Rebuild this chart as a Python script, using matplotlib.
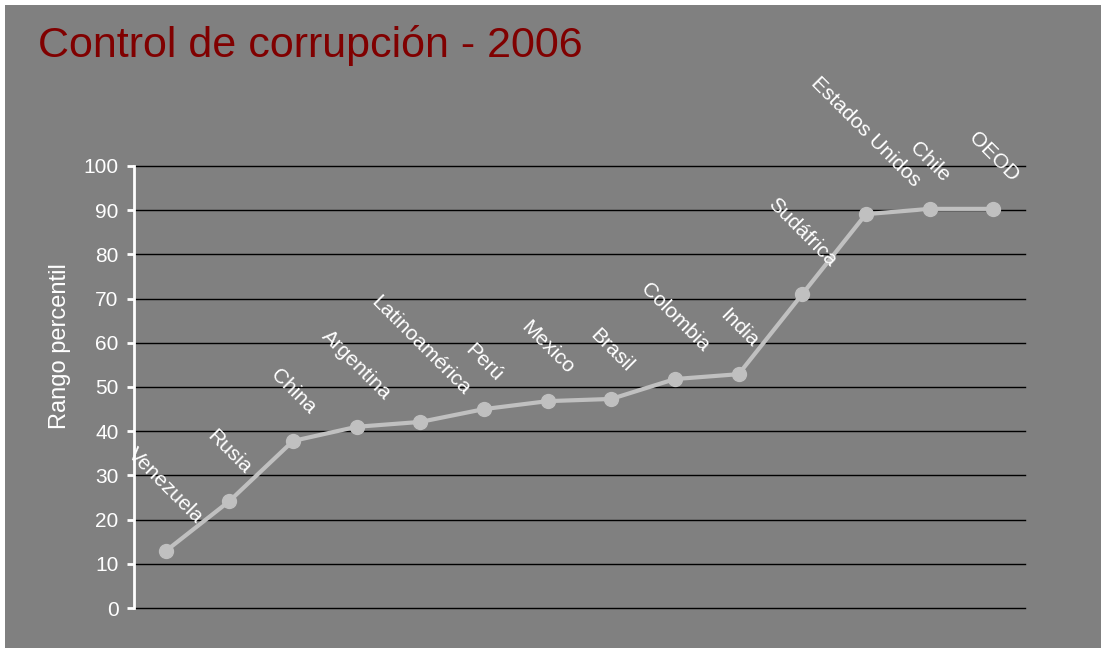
import matplotlib
matplotlib.use("Agg")
import matplotlib.pyplot as plt
from matplotlib.patches import Rectangle

paises = ["Venezuela", "Rusia", "China", "Argentina", "Latinoamérica", "Perú",
          "Mexico", "Brasil", "Colombia", "India", "Sudáfrica", "Estados Unidos",
          "Chile", "OEOD"]
rango = [12.9, 24.2, 37.8, 41.0, 42.1, 45.0, 46.8, 47.3, 51.8, 52.9, 71.0, 89.1, 90.3, 90.3]
yticks = [0, 10, 20, 30, 40, 50, 60, 70, 80, 90, 100]

GRIS = "#808080"
plt.rcParams["font.family"] = ["Liberation Sans", "DejaVu Sans"]

fig = plt.figure(figsize=(11.01, 6.48), dpi=100)
fig.patch.set_facecolor("white")
# fondo gris con borde blanco arriba/izquierda
fig.patches.append(Rectangle((5 / 1101, 0), 1, 1 - 5 / 648, transform=fig.transFigure,
                             facecolor=GRIS, edgecolor="none", zorder=-10))

ax = fig.add_axes([134 / 1101, 1 - 608 / 648, 891 / 1101, 442 / 648])
ax.set_facecolor(GRIS)

x = list(range(len(paises)))
ax.plot(x, rango, color="#C0C0C0", linewidth=3, marker="o", markersize=10,
        markeredgecolor="#C0C0C0", zorder=3, clip_on=False)

for i, (nombre, v) in enumerate(zip(paises, rango)):
    ax.annotate(nombre, (i, v), xytext=(0, 17), textcoords="offset points",
                ha="center", va="bottom", rotation=-45, color="white",
                fontsize=15, annotation_clip=False)

ax.set_xlim(-0.5, len(paises) - 0.5)
ax.set_ylim(0, 100)
ax.set_yticks(yticks)
ax.set_xticks([])
ax.yaxis.grid(True, color="black", linewidth=1)
for gl in ax.get_ygridlines():
    gl.set_clip_on(False)
ax.set_axisbelow(True)

for s in ["top", "right", "bottom"]:
    ax.spines[s].set_visible(False)
ax.spines["left"].set_color("white")
ax.spines["left"].set_linewidth(2)
ax.spines["left"].set_zorder(2.5)
ax.tick_params(axis="y", colors="white", labelcolor="white", labelsize=15,
               length=5, width=2, pad=6)

ax.set_ylabel("Rango percentil", color="white", fontsize=17)
ax.yaxis.set_label_coords(-0.071, 0.593)

fig.text(38 / 1101, 1 - 57 / 648, "Control de corrupción - 2006", color="#800000",
         fontsize=31, va="baseline", ha="left")

fig.savefig("out.png", dpi=100, facecolor=fig.get_facecolor())
